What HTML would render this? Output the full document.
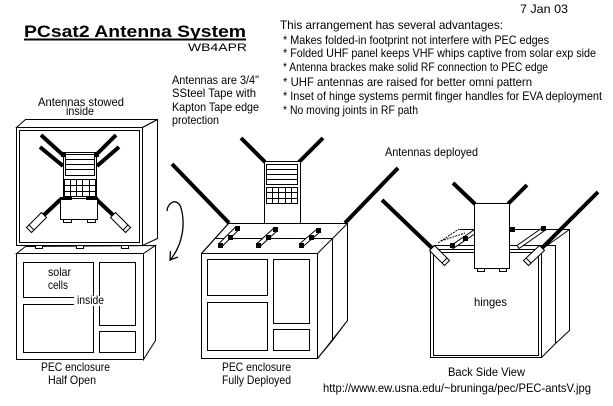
<!DOCTYPE html>
<html><head><meta charset="utf-8"><style>
html,body{margin:0;padding:0;background:#fff;}
svg{display:block;}
text{font-family:"Liberation Sans",Arial,sans-serif;fill:#000;}
</style></head><body>
<svg width="613" height="406" viewBox="0 0 613 406" xmlns="http://www.w3.org/2000/svg">
<rect width="613" height="406" fill="#fff"/>
<!-- Texts -->
<text x="24" y="37" font-size="17" font-weight="bold" textLength="222" lengthAdjust="spacingAndGlyphs">PCsat2 Antenna System</text>
<rect x="24" y="38.5" width="222" height="2" fill="#000"/>
<text x="188" y="51" font-size="11" textLength="59" lengthAdjust="spacingAndGlyphs">WB4APR</text>
<text x="520" y="13" font-size="12" textLength="48" lengthAdjust="spacingAndGlyphs">7 Jan 03</text>
<g font-size="12">
<text x="280" y="29" textLength="223" lengthAdjust="spacingAndGlyphs">This arrangement has several advantages:</text>
<text x="283" y="44" textLength="266" lengthAdjust="spacingAndGlyphs">* Makes folded-in footprint not interfere with PEC edges</text>
<text x="283" y="57" textLength="313" lengthAdjust="spacingAndGlyphs">* Folded UHF panel keeps VHF whips captive from solar exp side</text>
<text x="283" y="71" textLength="265" lengthAdjust="spacingAndGlyphs">* Antenna brackes make solid RF connection to PEC edge</text>
<text x="283" y="86" textLength="249" lengthAdjust="spacingAndGlyphs">* UHF antennas are raised for better omni pattern</text>
<text x="283" y="100" textLength="319" lengthAdjust="spacingAndGlyphs">* Inset of hinge systems permit finger handles for EVA deployment</text>
<text x="283" y="114" textLength="135" lengthAdjust="spacingAndGlyphs">* No moving joints in RF path</text>
<text x="172" y="84" textLength="87" lengthAdjust="spacingAndGlyphs">Antennas are 3/4"</text>
<text x="172" y="97" textLength="84" lengthAdjust="spacingAndGlyphs">SSteel Tape  with</text>
<text x="172" y="111" textLength="87" lengthAdjust="spacingAndGlyphs">Kapton Tape edge</text>
<text x="172" y="124" textLength="47" lengthAdjust="spacingAndGlyphs">protection</text>
<text x="38" y="106" textLength="86" lengthAdjust="spacingAndGlyphs">Antennas stowed</text>
<text x="66" y="115" textLength="28" lengthAdjust="spacingAndGlyphs">inside</text>
<text x="41" y="371" textLength="69" lengthAdjust="spacingAndGlyphs">PEC enclosure</text>
<text x="48" y="384" textLength="48" lengthAdjust="spacingAndGlyphs">Half Open</text>
<text x="222" y="371" textLength="69" lengthAdjust="spacingAndGlyphs">PEC enclosure</text>
<text x="222" y="384" textLength="69" lengthAdjust="spacingAndGlyphs">Fully Deployed</text>
<text x="385" y="156" textLength="93" lengthAdjust="spacingAndGlyphs">Antennas deployed</text>
<text x="448" y="376" textLength="77" lengthAdjust="spacingAndGlyphs">Back Side View</text>
<text x="323" y="392" textLength="268" lengthAdjust="spacingAndGlyphs">http://www.ew.usna.edu/~bruninga/pec/PEC-antsV.jpg</text>
</g>

<g stroke="#000" stroke-width="1" fill="none">
<!-- ===== Figure 1: lower box ===== -->
<polygon points="16.5,253.5 25.5,246.5 155.5,245.5 143.5,253.5" fill="#fff"/>
<polygon points="143.5,253.5 155.5,245.5 155.5,340.5 143.5,359.5" fill="#fff"/>
<rect x="16.5" y="253.5" width="127" height="106" fill="#fff"/>
<rect x="23.5" y="262.5" width="70" height="35"/>
<rect x="23.5" y="304.5" width="70" height="48"/>
<rect x="99.5" y="262.5" width="36" height="63"/>
<rect x="99.5" y="331.5" width="36" height="21"/>
</g>
<rect x="74" y="296" width="31" height="10" fill="#fff"/>
<g font-size="12">
<text x="48" y="276" textLength="23" lengthAdjust="spacingAndGlyphs">solar</text>
<text x="48" y="289" textLength="20" lengthAdjust="spacingAndGlyphs">cells</text>
<text x="77" y="304" textLength="27" lengthAdjust="spacingAndGlyphs">inside</text>
</g>

<g stroke="#000" stroke-width="1" fill="none">
<!-- ===== Figure 1: upper box ===== -->
<polygon points="16.5,127.5 25.5,119.5 157.5,119.5 142.5,127.5" fill="#fff"/>
<polygon points="142.5,127.5 157.5,119.5 157.5,238.5 142.5,245.5" fill="#fff"/>
<rect x="16.5" y="127.5" width="126" height="118" fill="#fff"/>
<rect x="19.5" y="130.5" width="120" height="112"/>
<rect x="35.5" y="245.5" width="7" height="3" fill="#fff"/>
<rect x="76.5" y="245.5" width="7" height="3" fill="#fff"/>
<rect x="121.5" y="245.5" width="7" height="3" fill="#fff"/>
</g>
<!-- stowed antennas -->
<g stroke="#000" stroke-width="4" stroke-linecap="butt">
<line x1="41" y1="135" x2="63" y2="155"/>
<line x1="40" y1="147" x2="63" y2="166"/>
<line x1="116" y1="135" x2="96" y2="155"/>
<line x1="119" y1="147" x2="97" y2="166"/>
<line x1="61" y1="199" x2="44" y2="215"/>
<line x1="96" y1="199" x2="113" y2="215"/>
</g>
<g stroke="#000" stroke-width="1" fill="#fff">
<polygon points="46.5,217.5 41.5,212.5 26.5,227.5 31.5,232.5"/>
<line x1="29" y1="225" x2="34" y2="230"/>
<polygon points="115.5,212.5 110.5,217.5 125.5,232.5 130.5,227.5"/>
<line x1="123" y1="230" x2="128" y2="225"/>
<!-- stowed panel -->
<rect x="63.5" y="152.5" width="33" height="46"/>
<rect x="60.5" y="198.5" width="37" height="21"/>
<rect x="63.5" y="219.5" width="8" height="3"/>
<rect x="87.5" y="219.5" width="8" height="3"/>
<rect x="65.5" y="154.5" width="29" height="21"/>
<line x1="65.5" y1="159.5" x2="94.5" y2="159.5"/>
<line x1="65.5" y1="164.5" x2="94.5" y2="164.5"/>
<line x1="65.5" y1="169.5" x2="94.5" y2="169.5"/>
<rect x="64.5" y="179.5" width="31" height="17"/>
<line x1="70.5" y1="179.5" x2="70.5" y2="196.5"/>
<line x1="76.5" y1="179.5" x2="76.5" y2="196.5"/>
<line x1="82.5" y1="179.5" x2="82.5" y2="196.5"/>
<line x1="89.5" y1="179.5" x2="89.5" y2="196.5"/>
<line x1="64.5" y1="185.5" x2="95.5" y2="185.5"/>
<line x1="64.5" y1="191.5" x2="95.5" y2="191.5"/>
</g>
<g fill="#000">
<rect x="61" y="152" width="5" height="5"/>
<rect x="94" y="152" width="5" height="5"/>
<rect x="60" y="197" width="12" height="3"/>
<rect x="86" y="197" width="12" height="3"/>
</g>

<!-- curved arrow -->
<g stroke="#000" stroke-width="1.3" fill="none">
<path d="M167,211 C168,201 178,198 181,208 C185,222 184,242 171,259"/>
<path d="M170.5,251 L170,260 L178,257"/>
</g>

<!-- ===== Figure 2: deployed ===== -->
<g stroke="#000" stroke-width="4" stroke-linecap="butt">
<line x1="172" y1="164" x2="229" y2="223"/>
<line x1="345" y1="223" x2="398" y2="168"/>
<line x1="241" y1="138" x2="265" y2="162"/>
<line x1="323" y1="138" x2="299" y2="162"/>
</g>
<g stroke="#000" stroke-width="1" fill="none">
<polygon points="228.5,223.5 347.5,223.5 347.5,320.5 317.5,358.5 201.5,358.5 201.5,253.5" fill="#fff"/>
<path d="M228.5,223.5 H347.5 V320.5 L332.5,340.5"/>
<path d="M215.5,238.5 H332.5 V340.5 L317.5,358.5"/>
<path d="M201.5,253.5 L228.5,223.5"/>
<path d="M317.5,253.5 L347.5,223.5"/>
<rect x="201.5" y="253.5" width="116" height="105" fill="#fff"/>
<rect x="207.5" y="259.5" width="60" height="36"/>
<rect x="207.5" y="302.5" width="60" height="48"/>
<rect x="273.5" y="259.5" width="36" height="64"/>
<rect x="273.5" y="329.5" width="36" height="21"/>
<!-- brackets -->
<polygon points="219,243.5 235.5,227 238.5,230 222,246.5" fill="#fff"/>
<polygon points="257,243.5 274,228 277,231 260,246.5" fill="#fff"/>
<polygon points="300,243.5 317,229 320,232 303,246.5" fill="#fff"/>
<!-- top panel -->
<rect x="264.5" y="161.5" width="36" height="62" fill="#fff"/>
<rect x="266.5" y="164.5" width="31" height="20"/>
<line x1="266.5" y1="169.5" x2="297.5" y2="169.5"/>
<line x1="266.5" y1="174.5" x2="297.5" y2="174.5"/>
<line x1="266.5" y1="179.5" x2="297.5" y2="179.5"/>
<rect x="266.5" y="187.5" width="31" height="16"/>
<line x1="272.5" y1="187.5" x2="272.5" y2="203.5"/>
<line x1="278.5" y1="187.5" x2="278.5" y2="203.5"/>
<line x1="285.5" y1="187.5" x2="285.5" y2="203.5"/>
<line x1="291.5" y1="187.5" x2="291.5" y2="203.5"/>
<line x1="266.5" y1="192.5" x2="297.5" y2="192.5"/>
<line x1="266.5" y1="198.5" x2="297.5" y2="198.5"/>
</g>
<g fill="#000">
<rect x="218" y="243" width="5" height="5"/>
<rect x="228" y="235" width="5" height="5"/>
<rect x="235" y="226" width="5" height="5"/>
<rect x="256" y="243" width="5" height="5"/>
<rect x="266" y="235" width="5" height="5"/>
<rect x="273" y="227" width="5" height="5"/>
<rect x="299" y="243" width="5" height="5"/>
<rect x="309" y="235" width="5" height="5"/>
<rect x="316" y="228" width="5" height="5"/>
</g>

<!-- ===== Figure 3: back view ===== -->
<g stroke="#000" stroke-width="4" stroke-linecap="butt">
<line x1="382" y1="200" x2="432" y2="248"/>
<line x1="598" y1="192" x2="542" y2="248"/>
<line x1="453" y1="183" x2="475" y2="204"/>
<line x1="527" y1="185" x2="508" y2="204"/>
</g>
<g stroke="#000" stroke-width="1" fill="none">
<path d="M459.5,229.5 H569.5 V330.5 L555.5,343.5"/>
<path d="M433.5,245.5 H555.5 V343.5 L541.5,357.5"/>
<path d="M541.5,249.5 L569.5,229.5"/>
<path d="M438,243 L459,229" stroke-dasharray="2,1"/>
<path d="M441,241 L465,233" stroke-dasharray="2,1"/>
<rect x="430.5" y="249.5" width="111" height="108" fill="#fff"/>
<rect x="433.5" y="252.5" width="105" height="103"/>
<!-- brackets -->
<polygon points="451,245.5 474,230 476,233 453,248.5" fill="#fff"/>
<polygon points="517,245.5 542,228 544,231 519,248.5" fill="#fff"/>
<!-- hollow antenna ends -->
<polygon points="434.5,245.5 429.5,250.5 444.5,265.5 449.5,260.5" fill="#fff"/>
<line x1="442" y1="263" x2="447" y2="258"/>
<polygon points="544.5,250.5 539.5,245.5 523.5,260.5 528.5,265.5" fill="#fff"/>
<line x1="526" y1="258" x2="531" y2="263"/>
<!-- panel -->
<rect x="474.5" y="203.5" width="35" height="65" fill="#fff"/>
<rect x="477.5" y="268.5" width="7" height="3" fill="#fff"/>
<rect x="499.5" y="268.5" width="7" height="3" fill="#fff"/>
</g>
<g fill="#000">
<rect x="450" y="243" width="5" height="5"/>
<rect x="463" y="236" width="5" height="5"/>
<rect x="509" y="227" width="6" height="5"/>
<rect x="541" y="226" width="5" height="5"/>
</g>
<text x="474" y="306" font-size="12" textLength="33" lengthAdjust="spacingAndGlyphs">hinges</text>
</svg>
</body></html>
